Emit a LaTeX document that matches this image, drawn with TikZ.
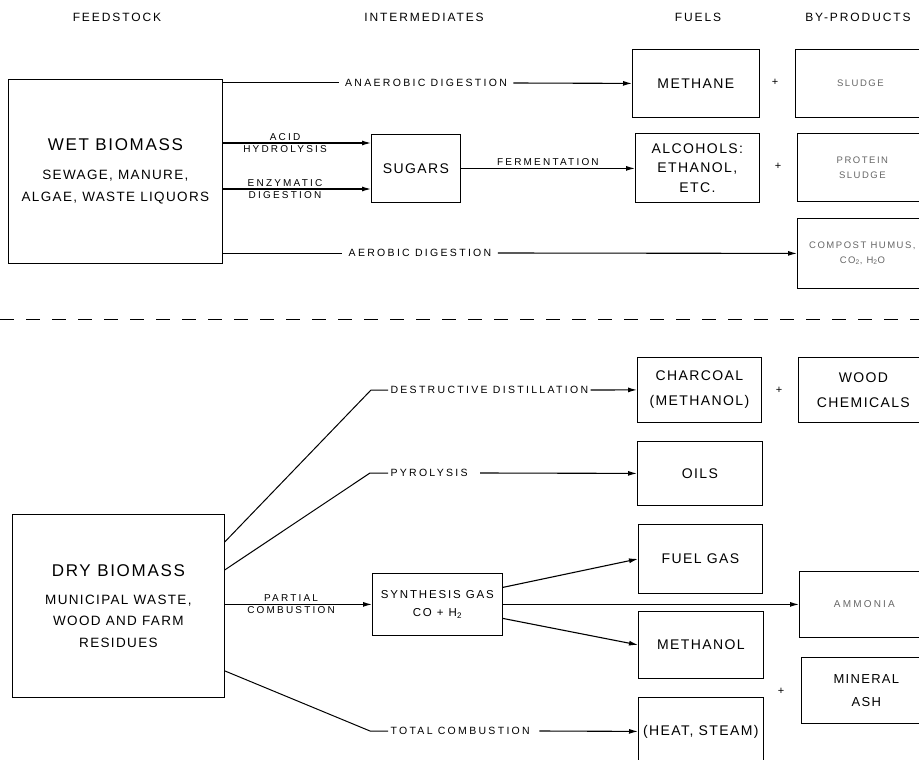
\documentclass[tikz,border=0pt]{standalone}
\usepackage{fontspec}
\setmainfont{Liberation Sans}
\newfontfamily\hdrfont[LetterSpace=16]{Liberation Sans}
\newfontfamily\boxfont[LetterSpace=10]{Liberation Sans}
\newfontfamily\lblfont[LetterSpace=22]{Liberation Sans}
\usetikzlibrary{arrows.meta, positioning, calc}

\begin{document}
\begin{tikzpicture}[
    x=1pt, y=-1pt,
    line width=1pt,
    box/.style 2 args={draw, line width=0.8pt, minimum width=#1,
        minimum height=#2, align=center, inner sep=0pt, anchor=north west,
        font=\boxfont\fontsize{14}{25}\selectfont},
    faint/.style={text=black!60, font=\hdrfont\fontsize{9.5}{15}\selectfont},
    hdr/.style={font=\hdrfont\fontsize{12}{14}\selectfont},
    lbl/.style={font=\lblfont\fontsize{10.5}{12}\selectfont, inner xsep=6pt,
        inner ysep=0pt},
    side/.style={font=\lblfont\fontsize{10}{12}\selectfont, inner sep=2pt},
    plussign/.style={font=\fontsize{11}{12}\selectfont, inner sep=0pt},
    arr/.style={-{Latex[length=9pt,width=5pt]}, line width=1.1pt},
    divider/.style={dashed, dash pattern=on 14pt off 12pt, line width=0.9pt},
  ]
  \useasboundingbox (0,0) rectangle (919,760);
  \clip (0,0) rectangle (919,760);
  \node[hdr] (feedhdr) at (117,17) {FEEDSTOCK};
  \node[hdr] (interhdr) at (424,17) {INTERMEDIATES};
  \node[hdr] (fuelhdr) at (698,17) {FUELS};
  \node[hdr] (byhdr) at (858,17) {BY-PRODUCTS};
  \node[box={214pt}{184pt}, font=\boxfont\fontsize{13.5}{22}\selectfont] (wet) at (8,79) {{\fontsize{17}{20}\selectfont WET BIOMASS}\\[7pt]SEWAGE, MANURE,\\ALGAE, WASTE LIQUORS};
  \node[box={89pt}{68pt}] (sugars) at (371,134) {SUGARS};
  \node[box={127pt}{68pt}] (methane) at (632,49) {METHANE};
  \node[box={124pt}{69pt}, font=\boxfont\fontsize{14}{19.5}\selectfont] (alcohols) at (635,133) {ALCOHOLS:\\ETHANOL,\\ETC.};
  \node[box={130pt}{68pt}, faint] (sludge) at (795,49) {SLUDGE};
  \node[box={130pt}{68pt}, faint] (protein) at (797,133) {PROTEIN\\SLUDGE};
  \node[box={130pt}{70pt}, faint] (compost) at (797,218) {COMPOST HUMUS,\\CO\textsubscript{2}, H\textsubscript{2}O};
  \node[plussign] (plus1) at (775,82) {+};
  \node[plussign] (plus2) at (778,166) {+};
  \node[lbl] (anaer) at (426,83) {ANAEROBIC DIGESTION};
  \draw (wet.east |- anaer) -- (anaer.west);
  \draw[arr] (anaer.east) -- (methane.west);
  \coordinate (acidin) at (371,143);
  \draw[arr] (wet.east |- acidin) -- node[side, above, pos=0.42] {ACID} node[side, below, pos=0.42] {HYDROLYSIS} (sugars.west |- acidin);
  \coordinate (enzin) at (371,189);
  \draw[arr] (wet.east |- enzin) -- node[side, above, pos=0.42] {ENZYMATIC} node[side, below, pos=0.42] {DIGESTION} (sugars.west |- enzin);
  \draw[arr] (sugars.east) -- node[side, above] {FERMENTATION} (alcohols.west |- sugars.east);
  \node[lbl] (aerob) at (420,253) {AEROBIC DIGESTION};
  \draw (wet.east |- aerob) -- (aerob.west);
  \draw[arr] (aerob.east) -- (compost.west);
  \draw[divider] (0,319) -- (919,319);
  \node[box={212pt}{183pt}, font=\boxfont\fontsize{13.5}{21.5}\selectfont] (dry) at (12,514) {{\fontsize{17}{20}\selectfont DRY BIOMASS}\\[6pt]MUNICIPAL WASTE,\\WOOD AND FARM\\RESIDUES};
  \node[box={130pt}{62pt}, font=\hdrfont\fontsize{11.5}{18}\selectfont] (syngas) at (372,573) {SYNTHESIS GAS\\CO + H\textsubscript{2}};
  \node[box={124pt}{65pt}] (charcoal) at (637,357) {CHARCOAL\\(METHANOL)};
  \node[box={125pt}{64pt}] (oils) at (637,441) {OILS};
  \node[box={124pt}{69pt}] (fuelgas) at (638,524) {FUEL GAS};
  \node[box={125pt}{67pt}] (methanol) at (638,611) {METHANOL};
  \node[box={125pt}{68pt}] (heat) at (638,697) {(HEAT, STEAM)};
  \node[box={130pt}{65pt}] (woodchem) at (798,357) {WOOD\\CHEMICALS};
  \node[box={130pt}{66pt}, faint, font=\lblfont\fontsize{10}{15}\selectfont] (ammonia) at (799,571) {AMMONIA};
  \node[box={130pt}{66pt}, font=\boxfont\fontsize{13}{23}\selectfont] (ash) at (801,657) {MINERAL\\ASH};
  \node[plussign] (plus3) at (779,390) {+};
  \node[plussign] (plus4) at (781,691) {+};
  \coordinate (destrk) at (371,390);
  \node[lbl, anchor=west, inner xsep=2pt] (destr) at (388,390) {DESTRUCTIVE DISTILLATION};
  \draw ([yshift=64pt]dry.east) -- (destrk) -- (destr.west);
  \draw[arr] (destr.east) -- (charcoal.west);
  \coordinate (pyrok) at (370,473);
  \node[lbl, anchor=west, inner xsep=2pt] (pyro) at (388,473) {PYROLYSIS};
  \draw ([yshift=36pt]dry.east) -- (pyrok) -- (pyro.west);
  \draw[arr] ([xshift=10pt]pyro.east) -- (oils.west);
  \draw[arr] (dry.east |- syngas.west) -- node[side, above, pos=0.45] {PARTIAL} node[side, below, pos=0.45] {COMBUSTION} (syngas.west);
  \coordinate (totalk) at (370,731);
  \node[lbl, anchor=west, inner xsep=2pt] (total) at (388,731) {TOTAL COMBUSTION};
  \draw ([yshift=-65pt]dry.east) -- (totalk) -- (total.west);
  \draw[arr] ([xshift=7pt]total.east) -- (heat.west);
  \draw[arr] ([yshift=17pt]syngas.east) -- (fuelgas.west);
  \draw[arr] (syngas.east) -- (ammonia.west);
  \draw[arr] ([yshift=-14pt]syngas.east) -- (methanol.west);
\end{tikzpicture}
\end{document}
